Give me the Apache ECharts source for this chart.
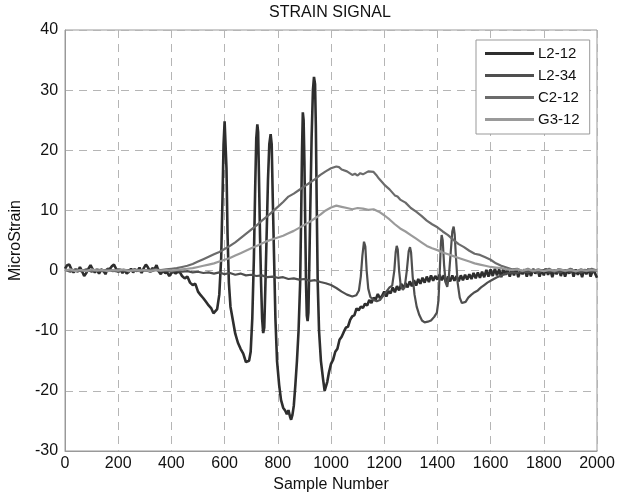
<!DOCTYPE html>
<html>
<head>
<meta charset="utf-8">
<script src="https://cdn.jsdelivr.net/npm/echarts@6/dist/echarts.min.js"></script>
<style>html,body{margin:0;padding:0;background:#fff;}#c{width:628px;height:499px;}</style>
</head>
<body>
<div id="c"></div>
<script>
const seriesNames = ['L2-12', 'L2-34', 'C2-12', 'G3-12'];
const xTicks = [0, 200, 400, 600, 800, 1000, 1200, 1400, 1600, 1800, 2000];
const yTicks = [-30, -20, -10, 0, 10, 20, 30, 40];

const L2_12 = [
[0,0.3],[8,0.9],[16,1.0],[24,0.2],[32,-0.3],[40,0.1],[48,-0.2],[56,0.6],[64,-0.1],[72,-0.9],[80,-0.4],[88,0.3],[96,0.9],[104,0.2],[112,-0.3],[120,0.1],[128,-0.5],[136,0.2],[144,0.0],[152,-0.6],[160,0.3],[168,0.2],[176,0.7],[184,1.0],[192,0.3],[200,-0.2],[208,0.2],[216,-0.4],[224,0.1],[232,-0.5],[240,-0.2],[248,0.3],[256,-0.3],[264,0.2],[272,-0.1],[280,0.5],[288,-0.4],[296,0.4],[304,1.0],[312,0.5],[320,-0.2],[328,0.4],[336,0.2],[344,0.9],[352,-0.1],[360,-0.6],[368,0.0],[376,-0.4],[384,-0.3],[392,-0.9],[400,-0.4],[408,-0.2],[416,-0.5],[424,-0.2],[432,-0.3],
[440,-0.9],[450,-1.3],[460,-1.0],[470,-2.0],[480,-2.4],[490,-2.2],[500,-3.5],[510,-4.1],[520,-4.6],[530,-5.2],[540,-5.8],[550,-6.3],[558,-7.1],[565,-7.3],[572,-6.4],[580,-4],[587,2],[592,12],[596,21],[600,24.8],[604,24.6],[607,17],[611,6],[616,-2],[622,-6],[630,-8],[640,-10.5],[650,-12],[660,-13],[670,-13.8],[680,-15.2],[686,-15.5],[692,-15],[698,-13.5],[704,-8],[710,2],[715,14],[719,22],[723,24.3],[726,23],[729,16],[733,6],[737,-2],[741,-8],[745,-10.4],[749,-9.5],[753,-3],[758,6],[763,15],[768,21],[773,22.7],[777,21],[781,12],[786,2],[791,-8],[797,-15],[805,-19],[812,-21.5],[820,-22.8],[828,-23.3],[834,-23.9],[840,-23.2],[846,-24.3],[850,-24.8],[855,-24],[860,-22.5],[866,-19],[872,-15],[878,-10],[884,-2],[888,10],[891,20],[894,26.3],[897,25],[900,18],[903,8],[906,-2],[909,-7.5],[912,-8.4],[915,-7],[918,0],[922,10],[927,22],[932,30],[936,32.2],[940,31],[943,24],[946,12],[950,-2],[955,-10],[962,-15],[970,-18],[976,-20],[980,-20.1],[986,-18.5],[992,-17],[1000,-15.5],[1008,-14.8],[1016,-13.5],[1024,-13],[1032,-11.5],[1040,-11],[1048,-10.2],[1056,-9.5],[1064,-9.3],[1072,-8.2],[1080,-7.6],[1088,-7.4],[1096,-6.3],[1104,-6.6],[1112,-6],[1120,-6.2],[1128,-5.5],[1136,-5.8],[1144,-4.9],[1152,-5.4],[1160,-4.5],[1168,-4.8],[1176,-3.9],[1184,-4.6],[1192,-4.2],[1200,-3.5],[1208,-4.3],[1216,-3.4],[1224,-3.8],[1232,-2.8],[1240,-3.6],[1248,-2.6],[1256,-3.3],[1264,-2.2],[1272,-3.0],[1280,-2.1],[1288,-2.8],[1296,-1.8],[1304,-2.6],[1312,-1.6],[1320,-2.5],[1328,-1.4],[1336,-2.2],[1344,-1.2],[1352,-2.0],[1360,-1.0],[1368,-1.9],[1376,-0.8],[1384,-1.7],[1392,-0.9],[1400,-1.5],
[1408,-0.7],[1416,-1.6],[1424,-0.8],[1432,-1.9],[1440,-1.0],[1448,-1.8],[1456,-0.8],[1464,-1.7],[1472,-0.9],[1480,-1.8],[1488,-0.8],[1496,-1.6],[1504,-0.7],[1512,-1.5],[1520,-0.6],[1528,-1.4],[1536,-0.4],[1544,-1.3],[1552,-0.3],[1560,-1.2],[1568,-0.2],[1576,-1.1],[1584,0.1],[1592,-1.0],[1600,0.2],[1608,-0.9],[1616,0.3],[1624,-0.8],[1632,0.2],[1640,-1.1],[1648,0.3],[1656,-0.7],[1664,0.2],[1672,-1.0],[1680,0.1],[1688,-0.8],[1696,0.3],[1704,-1.1],[1712,0.0],[1720,-0.6],[1728,0.2],[1736,-1.0],[1744,0.1],[1752,-0.9],[1760,0.3],[1768,-0.5],[1776,0.2],[1784,-1.0],[1792,0.1],[1800,-0.8],[1808,0.3],[1816,-0.7],[1824,0.2],[1832,-1.1],[1840,0.1],[1848,-0.6],[1856,0.3],[1864,-0.9],[1872,0.2],[1880,-1.0],[1888,0.0],[1896,-0.5],[1904,0.3],[1912,-1.0],[1920,0.2],[1928,-0.7],[1936,0.1],[1944,-1.1],[1952,0.2],[1960,-0.6],[1968,0.3],[1976,-1.0],[1984,0.0],[1992,-0.4],[2000,-1.2]
];

const L2_34 = [
[0,0.1],[20,-0.2],[40,0.2],[60,-0.1],[80,0.2],[100,-0.2],[120,0.1],[140,-0.1],[160,0.2],[180,0.0],[200,-0.2],[220,0.1],[240,-0.1],[260,0.2],[280,-0.1],[300,0.1],[320,-0.2],[340,0.1],[360,-0.1],[380,0.0],[400,-0.2],[420,0.0],[440,-0.2],[460,-0.1],[480,-0.3],[500,-0.2],[520,-0.4],[540,-0.3],[560,-0.5],[580,-0.3],[600,-0.6],[620,-0.4],[640,-0.7],[660,-0.5],[680,-0.8],[700,-0.7],[720,-0.9],[740,-0.8],[760,-1.1],[780,-1.0],[800,-1.2],[820,-1.1],[840,-1.4],[860,-1.3],[880,-1.5],[900,-1.4],[920,-1.7],[940,-1.6],[960,-1.9],[980,-2.1],[1000,-2.4],[1020,-2.9],[1040,-3.5],[1060,-4.0],[1080,-4.3],[1095,-4.1],[1105,-3.3],[1112,-1],[1118,2.5],[1124,4.8],[1129,4],[1134,0],[1140,-3],[1148,-4.4],[1160,-4.9],[1172,-5.1],[1184,-4.9],[1196,-4.2],[1208,-3.5],[1220,-2.8],[1230,-2.5],[1238,0],[1243,3],[1247,4.1],[1251,3.5],[1256,0],[1262,-2.5],[1270,-3.2],[1277,-2.8],[1285,0],[1292,3.2],[1297,3.9],[1301,3],[1307,-1],[1314,-4],[1322,-6],[1332,-7.4],[1342,-8.3],[1352,-8.6],[1364,-8.5],[1376,-8.3],[1388,-7.7],[1398,-7],[1404,-5],[1409,0],[1413,4.5],[1416,5.9],[1420,5],[1425,1],[1431,-2],[1437,-2.7],[1443,-1],[1450,3],[1456,6.5],[1461,7.3],[1465,6],[1470,2],[1476,-2],[1484,-4.5],[1492,-5.4],[1498,-5.7],[1506,-5.2],[1516,-4.5],[1528,-4],[1540,-3.6],[1552,-3.3],[1564,-2.8],[1576,-2.4],[1588,-2],[1600,-1.7],[1612,-1.4],[1624,-1.1],[1636,-0.9],[1648,-0.7],[1660,-0.5],[1680,-0.3],[1700,-0.4],[1720,-0.1],[1740,-0.3],[1760,0.0],[1780,-0.3],[1800,0.1],[1820,-0.2],[1840,0.0],[1860,-0.3],[1880,0.1],[1900,-0.2],[1920,0.0],[1940,-0.3],[1960,0.1],[1980,-0.2],[2000,0.0]
];

const C2_12 = [
[0,0.2],[20,-0.1],[40,0.2],[60,0],[80,0.1],[100,-0.1],[120,0.2],[140,0],[160,0.1],[180,-0.1],[200,0.2],[220,0],[240,0.1],[260,-0.1],[280,0.1],[300,0],[320,0.1],[340,0.2],[360,0.1],[380,0.2],[400,0.3],[420,0.4],[440,0.6],[460,0.8],[480,1.1],[500,1.5],[520,1.9],[540,2.3],[560,2.7],[580,3.1],[600,3.6],[620,4.1],[640,4.7],[660,5.4],[680,6.1],[700,6.8],[720,7.5],[740,8.3],[760,9.0],[780,9.8],[800,10.6],[820,11.4],[840,12.3],[860,12.8],[880,13.4],[900,14.0],[920,14.6],[940,15.2],[960,15.9],[980,16.5],[1000,17.0],[1020,17.3],[1030,17.2],[1040,16.8],[1060,16.5],[1080,15.9],[1090,16.1],[1100,15.8],[1110,16.2],[1120,16.0],[1140,16.5],[1160,16.4],[1170,15.9],[1180,15.3],[1190,14.8],[1200,14.3],[1220,13.5],[1240,12.5],[1250,12.3],[1260,11.8],[1280,11.3],[1300,10.4],[1320,9.8],[1340,9.1],[1360,8.3],[1380,7.7],[1400,7.2],[1420,6.5],[1440,5.9],[1460,5.1],[1480,4.4],[1500,3.9],[1520,3.3],[1540,2.8],[1560,2.6],[1580,2.2],[1600,1.8],[1620,1.2],[1640,0.8],[1660,0.5],[1680,0.2],[1700,0.3],[1720,-0.1],[1740,0.3],[1760,-0.2],[1780,0.2],[1800,-0.1],[1820,0.3],[1840,-0.2],[1860,0.2],[1880,-0.1],[1900,0.3],[1920,-0.2],[1940,0.2],[1960,-0.1],[1980,0.3],[2000,0.0]
];

const G3_12 = [
[0,0.0],[20,0.2],[40,-0.1],[60,0.1],[80,-0.1],[100,0.2],[120,0.0],[140,0.1],[160,-0.1],[180,0.1],[200,0.0],[220,0.2],[240,-0.1],[260,0.1],[280,0.0],[300,0.1],[320,-0.1],[340,0.1],[360,0.0],[380,0.1],[400,0.0],[420,0.1],[440,0.2],[460,0.3],[480,0.4],[500,0.6],[520,0.8],[540,1.0],[560,1.2],[580,1.5],[600,1.8],[620,2.1],[640,2.5],[660,2.9],[680,3.3],[700,3.7],[720,4.1],[740,4.5],[760,4.9],[780,5.2],[800,5.5],[820,5.8],[840,6.2],[860,6.6],[880,7.1],[900,7.6],[920,8.1],[940,8.7],[960,9.3],[980,10.0],[1000,10.5],[1020,10.8],[1040,10.6],[1060,10.4],[1080,10.2],[1100,10.4],[1120,10.3],[1140,10.1],[1160,10.2],[1180,9.8],[1200,9.2],[1220,8.5],[1240,7.7],[1260,7.0],[1280,6.5],[1300,5.9],[1320,5.3],[1340,4.7],[1360,4.1],[1380,3.7],[1400,3.4],[1420,3.0],[1440,2.7],[1460,2.4],[1480,2.1],[1500,1.8],[1520,1.5],[1540,1.2],[1560,1.0],[1580,0.8],[1600,0.6],[1620,0.5],[1640,0.4],[1660,0.2],[1680,0.1],[1700,0.2],[1720,0.0],[1740,0.2],[1760,0.0],[1780,0.1],[1800,-0.1],[1820,0.1],[1840,0.0],[1860,0.2],[1880,0.0],[1900,0.1],[1920,-0.1],[1940,0.1],[1960,0.0],[1980,0.1],[2000,0.0]
];

const seriesData = [L2_12, L2_34, C2_12, G3_12];
const colors = ['#2e2e2e', '#4f4f4f', '#6b6b6b', '#9a9a9a'];
const widths = [2.6, 2.2, 2.2, 2.2];
const FONT = 'Liberation Sans, Arial, sans-serif';

const chart = echarts.init(document.getElementById('c'), null, {renderer: 'canvas'});
chart.setOption({
  animation: false,
  backgroundColor: '#fff',
  title: {
    text: 'STRAIN SIGNAL', left: 330, top: 5, textAlign: 'center', padding: 0,
    textStyle: {fontFamily: FONT, fontSize: 16, fontWeight: 'normal', color: '#111'}
  },
  legend: {
    orient: 'vertical', left: 476, top: 40, padding: [6, 10, 7, 9],
    itemWidth: 49, itemHeight: 3, itemGap: 7, icon: 'rect',
    borderColor: '#999', borderWidth: 1, backgroundColor: '#fff', borderRadius: 0,
    textStyle: {fontFamily: FONT, fontSize: 15, color: '#111', padding: [0, 0, 0, -1]},
    data: seriesNames
  },
  grid: {left: 65, right: 31, top: 30, bottom: 48, show: true, borderColor: '#999', borderWidth: 1},
  xAxis: {
    type: 'value', min: xTicks[0], max: xTicks[xTicks.length - 1], interval: 200,
    name: 'Sample Number', nameLocation: 'middle', nameGap: 26,
    nameTextStyle: {fontFamily: FONT, fontSize: 16, color: '#111'},
    axisLine: {show: true, onZero: false, lineStyle: {color: '#999'}},
    axisTick: {show: false},
    axisLabel: {fontFamily: FONT, fontSize: 16, color: '#111', margin: 5, formatter: v => String(v)},
    splitLine: {show: true, lineStyle: {color: '#b5b5b5', type: [8, 6], width: 1}}
  },
  yAxis: {
    type: 'value', min: yTicks[0], max: yTicks[yTicks.length - 1], interval: 10,
    name: 'MicroStrain', nameLocation: 'middle', nameGap: 41,
    nameTextStyle: {fontFamily: FONT, fontSize: 16, color: '#111'},
    axisLine: {show: true, onZero: false, lineStyle: {color: '#999'}},
    axisTick: {show: false},
    axisLabel: {fontFamily: FONT, fontSize: 16, color: '#111', margin: 7, formatter: v => String(v)},
    splitLine: {show: true, lineStyle: {color: '#b5b5b5', type: [8, 6], width: 1}}
  },
  series: seriesNames.map((n, i) => ({
    name: n, type: 'line', data: seriesData[i], showSymbol: false, symbol: 'none',
    color: colors[i], lineStyle: {color: colors[i], width: widths[i]}, z: 2 + i
  }))
});
</script>
</body>
</html>
